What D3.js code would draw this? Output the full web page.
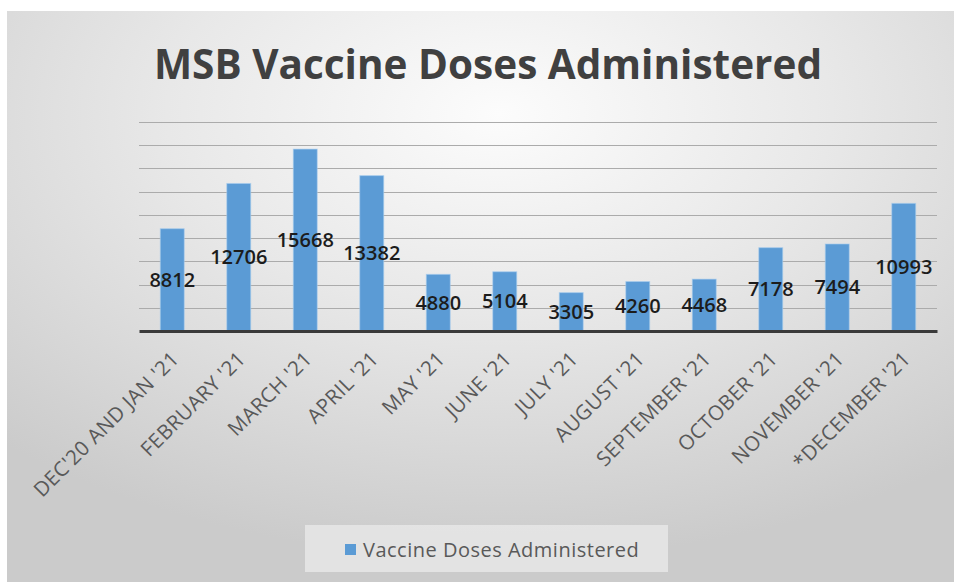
<!DOCTYPE html>
<html>
<head>
<meta charset="utf-8">
<script src="https://cdn.jsdelivr.net/npm/d3@7"></script>
<style>
  body { margin: 0; background: #fff; }
  svg { display: block; font-family: "Open Sans", sans-serif; }
</style>
</head>
<body>
<svg id="chart" width="954" height="582"></svg>
<script>
const months = ["DEC'20 AND JAN '21", "FEBRUARY '21", "MARCH '21", "APRIL '21", "MAY '21", "JUNE '21",
    "JULY '21", "AUGUST '21", "SEPTEMBER '21", "OCTOBER '21", "NOVEMBER '21", "*DECEMBER '21"];
const doses = [8812, 12706, 15668, 13382, 4880, 5104, 3305, 4260, 4468, 7178, 7494, 10993];
const gridTicks = [2000, 4000, 6000, 8000, 10000, 12000, 14000, 16000, 18000];
const seriesName = 'Vaccine Doses Administered';
const chartTitle = 'MSB Vaccine Doses Administered';

const data = months.map((m, i) => ({ month: m, value: doses[i] }));

const svg = d3.select('#chart');
const width = 954, height = 582;

// background gradient (chart area is offset from the top/left edge)
const defs = svg.append('defs');
const grad = defs.append('radialGradient')
    .attr('id', 'bg')
    .attr('cx', '52%').attr('cy', '18%').attr('r', '78%');
grad.append('stop').attr('offset', '0%').attr('stop-color', '#fcfcfc');
grad.append('stop').attr('offset', '45%').attr('stop-color', '#e8e8e8');
grad.append('stop').attr('offset', '100%').attr('stop-color', '#cbcbcb');

svg.append('rect')
    .attr('x', 7).attr('y', 11)
    .attr('width', width - 7).attr('height', height - 11)
    .attr('fill', 'url(#bg)');

const x = d3.scaleBand()
    .domain(months)
    .range([139, 937])
    .paddingInner(0.64)
    .paddingOuter(0.32);

const y = d3.scaleLinear()
    .domain([0, 18000])
    .range([331, 122]);

// title
svg.append('text')
    .attr('x', 488).attr('y', 79)
    .attr('text-anchor', 'middle')
    .attr('font-size', 40.5)
    .attr('font-weight', 700)
    .attr('fill', '#404040')
    .text(chartTitle);

// gridlines
svg.append('g')
    .selectAll('line')
    .data(gridTicks)
    .join('line')
    .attr('x1', 139).attr('x2', 937)
    .attr('y1', d => Math.round(y(d)) + 0.5)
    .attr('y2', d => Math.round(y(d)) + 0.5)
    .attr('stroke', '#ababab')
    .attr('stroke-width', 1);

// bars
svg.append('g')
    .selectAll('rect')
    .data(data)
    .join('rect')
    .attr('x', d => x(d.month))
    .attr('y', d => y(d.value))
    .attr('width', x.bandwidth())
    .attr('height', d => y(0) - y(d.value))
    .attr('fill', '#5b9bd5')
    .attr('stroke', '#a9cdef')
    .attr('stroke-opacity', 0.6)
    .attr('stroke-width', 1);

// baseline axis
const xAxis = svg.append('g')
    .attr('transform', `translate(0,${y(0)})`)
    .call(d3.axisBottom(x).tickSize(0).tickPadding(0));
xAxis.select('.domain')
    .attr('stroke', '#3a3a3a')
    .attr('stroke-width', 3);
xAxis.selectAll('.tick text')
    .attr('font-family', '"Open Sans", sans-serif')
    .attr('font-size', 20.5)
    .attr('letter-spacing', 0.4)
    .attr('fill', '#595959')
    .attr('text-anchor', 'end')
    .attr('dy', '0.7em')
    .attr('transform', 'translate(-2,19) rotate(-45)');

// data labels at the middle of each bar
svg.append('g')
    .selectAll('text')
    .data(data)
    .join('text')
    .attr('x', d => x(d.month) + x.bandwidth() / 2)
    .attr('y', d => y(d.value / 2))
    .attr('dy', '0.35em')
    .attr('text-anchor', 'middle')
    .attr('font-size', 20)
    .attr('font-weight', 600)
    .attr('fill', '#1c1c1c')
    .text(d => d.value);

// legend
const legend = svg.append('g').attr('transform', 'translate(305,525)');
legend.append('rect')
    .attr('width', 363).attr('height', 47)
    .attr('fill', '#e8e8e8')
    .attr('opacity', 0.8);
legend.append('rect')
    .attr('x', 40).attr('y', 19)
    .attr('width', 11).attr('height', 11)
    .attr('fill', '#5b9bd5');
legend.append('text')
    .attr('x', 58).attr('y', 25)
    .attr('dy', '0.35em')
    .attr('font-size', 20)
    .attr('letter-spacing', 0.5)
    .attr('fill', '#595959')
    .text(seriesName);
</script>
</body>
</html>
